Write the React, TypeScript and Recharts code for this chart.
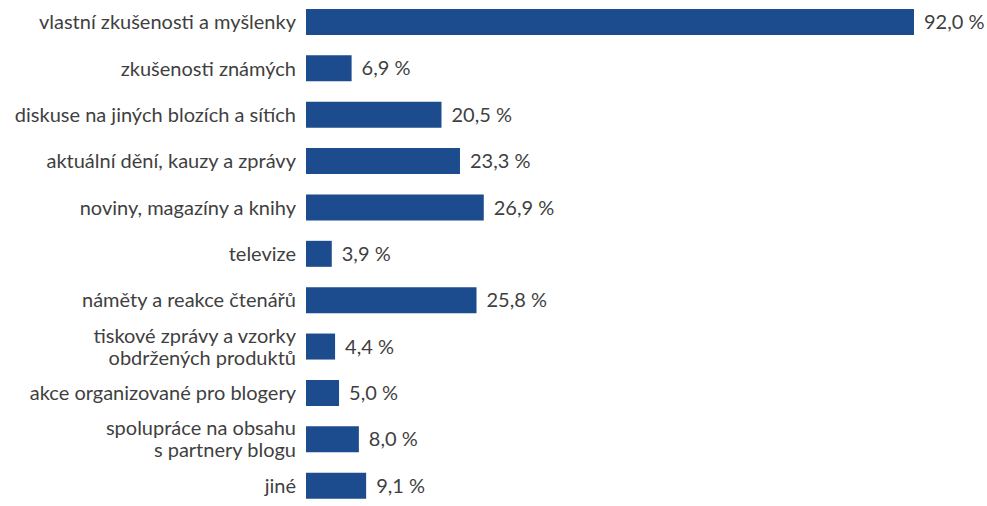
import React from "react";
import { BarChart, Bar, XAxis, YAxis, LabelList } from "recharts";

const categories = [
  "vlastní zkušenosti a myšlenky",
  "zkušenosti známých",
  "diskuse na jiných blozích a sítích",
  "aktuální dění, kauzy a zprávy",
  "noviny, magazíny a knihy",
  "televize",
  "náměty a reakce čtenářů",
  "tiskové zprávy a vzorky\nobdržených produktů",
  "akce organizované pro blogery",
  "spolupráce na obsahu\ns partnery blogu",
  "jiné",
];
const values = [92.0, 6.9, 20.5, 23.3, 26.9, 3.9, 25.8, 4.4, 5.0, 8.0, 9.1];

const data = categories.map((c, i) => ({ name: c, value: values[i] }));

const FONT = "Lato, 'Open Sans', sans-serif";
const TEXT = "#3f3f3f";
const FS = 20;

const Tick = (props: any) => {
  const { x, y, payload } = props;
  const lines = String(payload.value).split("\n");
  const lh = 22;
  return (
    <text x={x - 10} y={y} textAnchor="end" fill={TEXT} fontSize={FS} fontFamily={FONT}>
      {lines.map((l: string, i: number) => (
        <tspan key={i} x={x - 10} dy={i === 0 ? -((lines.length - 1) * lh) / 2 + 7 : lh}>
          {l}
        </tspan>
      ))}
    </text>
  );
};

export default function App() {
  return (
    <div style={{ position: "absolute", left: 0, top: 0, width: 987, height: 506, overflow: "hidden", background: "#fff" }}>
      <div style={{ position: "absolute", left: 0, top: -1 }}>
        <BarChart
          width={987}
          height={510}
          data={data}
          layout="vertical"
          margin={{ top: 0, right: 73, bottom: 0, left: 0 }}
        >
          <XAxis type="number" domain={[0, 92]} hide />
          <YAxis
            type="category"
            dataKey="name"
            width={306}
            axisLine={false}
            tickLine={false}
            tickSize={0}
            tickMargin={0}
            interval={0}
            tick={<Tick />}
          />
          <Bar dataKey="value" fill="#1c4b8e" barSize={26} isAnimationActive={false}>
            <LabelList
              dataKey="value"
              position="right"
              offset={10}
              fill={TEXT}
              fontSize={FS}
              fontFamily={FONT}
              formatter={(v: any) => Number(v).toFixed(1).replace(".", ",") + " %"}
            />
          </Bar>
        </BarChart>
      </div>
    </div>
  );
}
